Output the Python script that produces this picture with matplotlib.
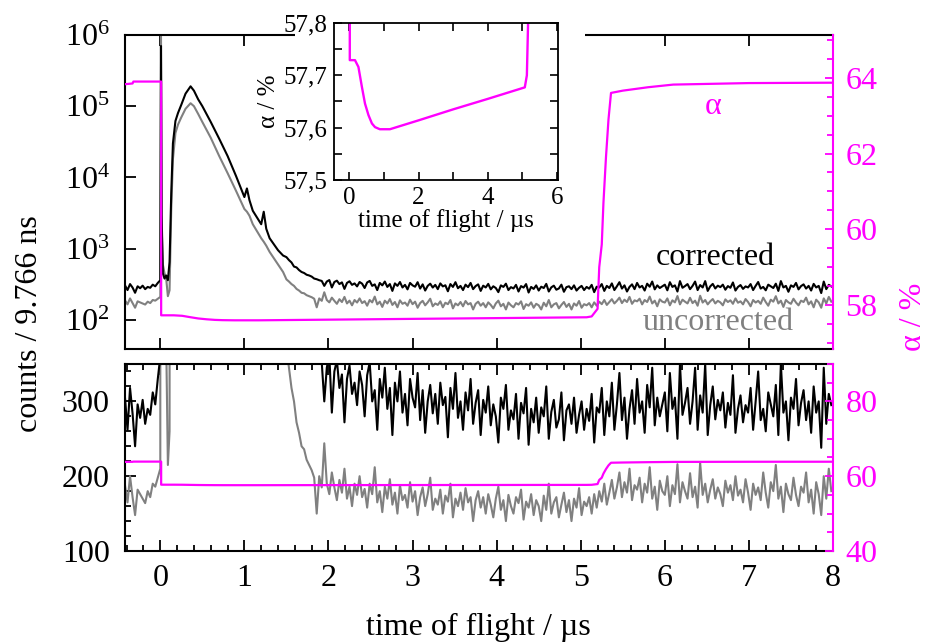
import numpy as np
import matplotlib
matplotlib.use("Agg")
import matplotlib.pyplot as plt
from matplotlib.ticker import MultipleLocator, NullLocator, LogLocator, LogFormatterMathtext, FuncFormatter
from matplotlib.patches import Rectangle

plt.rcParams['font.family'] = ['Liberation Serif', 'DejaVu Serif']
plt.rcParams['mathtext.fontset'] = 'custom'
plt.rcParams['mathtext.rm'] = 'Liberation Serif'
plt.rcParams['mathtext.it'] = 'Liberation Serif:italic'

MAGENTA = '#ff00ff'
GREY = '#808080'

# --- data (time of flight in us, counts per 9.766 ns bin, alpha in %) ---
# before the pulse, 0.03 us bins starting at -0.42 us
black_pre = [305, 262, 318, 284, 240, 296, 278, 302, 270, 290, 282, 312, 296, 330]
gray_pre = [188, 165, 200, 172, 148, 182, 176, 170, 164, 180, 172, 190, 186, 198]

# the pulse itself
pulse_t = [0.0, 0.008, 0.016, 0.03, 0.05, 0.07, 0.09, 0.11, 0.13, 0.15, 0.18, 0.21,
           0.25, 0.30, 0.36, 0.40, 0.45, 0.50, 0.60, 0.70, 0.80, 0.90, 1.00, 1.03,
           1.06, 1.10, 1.20, 1.23, 1.26, 1.30, 1.40, 1.46]
black_pulse = [360, 700000, 3000, 450, 380, 420, 360, 650, 6000, 30000, 62000, 80000,
               105000, 150000, 190000, 165000, 125000, 100000, 60000, 35000, 20000, 10500, 5300, 7000,
               4800, 3400, 2200, 3300, 1900, 1400, 950, 800]
gray_pulse = [210, 1200000, 2000, 600, 450, 380, 215, 260, 3500, 18000, 42000, 55000,
              70000, 92000, 110000, 100000, 78000, 60000, 36000, 20000, 11500, 6500, 3600, 3300,
              2900, 2200, 1400, 1250, 1100, 900, 600, 470]

# background after the pulse, 0.03 us bins starting at 1.5 us
black_tail = [760, 690, 640, 560, 545, 500, 470, 455, 430, 420,
              405, 380, 372, 360, 352, 300, 345, 362, 285, 340,
              355, 318, 336, 272, 330, 348, 310, 325, 295, 340,
              322, 280, 335, 352, 300, 315, 262, 330, 305, 345,
              290, 318, 255, 325, 300, 340, 285, 310, 268, 330,
              305, 292, 338, 275, 315, 258, 300, 322, 284, 310,
              270, 325, 295, 306, 252, 318, 290, 338, 278, 300,
              262, 312, 288, 330, 270, 298, 315, 255, 302, 285,
              320, 268, 296, 280, 245, 305, 290, 322, 262, 288,
              276, 310, 250, 298, 284, 318, 242, 290, 272, 305,
              258, 292, 280, 320, 250, 286, 302, 265, 276, 312,
              248, 288, 296, 270, 305, 258, 282, 300, 262, 290,
              274, 310, 245, 292, 285, 318, 255, 300, 280, 325,
              262, 296, 338, 275, 305, 250, 290, 315, 270, 330,
              285, 300, 258, 322, 292, 345, 268, 305, 280, 296,
              312, 260, 338, 290, 305, 250, 350, 282, 298, 318,
              270, 300, 345, 262, 308, 285, 350, 255, 295, 320,
              276, 302, 288, 312, 265, 298, 282, 335, 258, 290,
              308, 272, 295, 285, 318, 262, 300, 340, 275, 290,
              260, 312, 296, 280, 322, 255, 350, 285, 300, 248,
              305, 290, 330, 268, 298, 315, 275, 300, 258, 320,
              285, 300, 238, 345, 270, 310, 295]
gray_tail = [370, 345, 318, 300, 272, 258, 240, 236, 222, 215,
             208, 198, 150, 200, 185, 244, 190, 176, 205, 185,
             168, 195, 178, 210, 170, 186, 160, 190, 175, 200,
             172, 183, 158, 190, 176, 212, 165, 180, 152, 186,
             170, 196, 162, 178, 150, 188, 168, 175, 158, 192,
             166, 180, 148, 172, 185, 160, 176, 198, 155, 170,
             162, 182, 150, 174, 166, 190, 145, 170, 160, 178,
             155, 184, 165, 172, 140, 168, 180, 158, 172, 150,
             176, 162, 145, 170, 186, 155, 168, 140, 175, 160,
             150, 172, 164, 182, 142, 166, 158, 176, 148, 168,
             160, 140, 174, 155, 190, 150, 165, 172, 145, 162,
             178, 152, 168, 140, 170, 158, 184, 148, 166, 160,
             172, 150, 176, 158, 180, 166, 190, 162, 178, 195,
             170, 185, 205, 172, 192, 178, 210, 168, 188, 182,
             198, 165, 190, 178, 212, 170, 186, 155, 194, 180,
             175, 200, 160, 188, 176, 216, 165, 192, 180, 170,
             204, 172, 186, 158, 218, 175, 190, 165, 182, 196,
             170, 185, 176, 160, 194, 178, 188, 168, 200, 174,
             182, 165, 196, 178, 155, 190, 175, 185, 168, 205,
             178, 158, 192, 180, 215, 170, 186, 152, 190, 176,
             168, 198, 175, 160, 186, 178, 205, 165, 182, 150,
             192, 176, 148, 200, 170, 210, 180]

alpha_t = [-0.42, -0.33, -0.32, 0.01, 0.01, 0.16, 0.26, 0.36, 0.45, 0.55, 0.65, 0.74,
           0.88, 1.17, 2.0, 3.0, 4.0, 5.07, 5.13, 5.2, 5.22, 5.25, 5.27, 5.3, 5.33, 5.36,
           5.5, 5.8, 6.1, 7.0, 8.0]
alpha_vals = [63.83, 63.85, 63.9, 63.9, 57.729, 57.729, 57.716, 57.678, 57.646, 57.624, 57.608, 57.601,
              57.597, 57.597, 57.614, 57.635, 57.655, 57.677, 57.70, 57.9, 59.0, 59.6, 60.7, 61.9, 62.9, 63.6,
              63.66, 63.75, 63.82, 63.86, 63.87]

BIN = 0.03
t_pre = -0.42 + BIN * np.arange(len(black_pre))
t_tail = 1.5 + BIN * np.arange(len(black_tail))
t_all = np.concatenate([t_pre, pulse_t, t_tail])
black_all = np.concatenate([black_pre, black_pulse, black_tail])
gray_all = np.concatenate([gray_pre, gray_pulse, gray_tail])

FS = 23
FS_IN = 18
TICK = dict(direction='in', width=1.3, labelsize=FS)

fig = plt.figure(figsize=(9.3, 6.44), dpi=100)
ax_top = fig.add_axes([0.1344, 0.4581, 0.7613, 0.4876])
ax_bot = fig.add_axes([0.1344, 0.1444, 0.7613, 0.2904])
ax_top_r = ax_top.twinx()
ax_bot_r = ax_bot.twinx()

for ax in (ax_top, ax_bot):
    ax.plot(t_all, gray_all, color=GREY, lw=1.5)
    ax.plot(t_all, black_all, color='black', lw=1.5)
    ax.set_xlim(-0.42, 8.0)
    for s in ('left', 'top', 'bottom'):
        ax.spines[s].set_linewidth(1.5)
    ax.spines['right'].set_visible(False)
for ax in (ax_top_r, ax_bot_r):
    ax.plot(alpha_t, alpha_vals, color=MAGENTA, lw=1.6)
    ax.spines['right'].set_color(MAGENTA)
    ax.spines['right'].set_linewidth(1.5)
    for s in ('left', 'top', 'bottom'):
        ax.spines[s].set_visible(False)

# upper panel
ax_top.set_yscale('log')
ax_top.set_ylim(39, 1e6)
ax_top.yaxis.set_major_locator(LogLocator(base=10, numticks=10))
ax_top.yaxis.set_major_formatter(LogFormatterMathtext())
ax_top.yaxis.set_minor_locator(NullLocator())
ax_top.xaxis.set_major_locator(MultipleLocator(1))
ax_top.xaxis.set_minor_locator(NullLocator())
ax_top.tick_params(axis='x', which='both', top=True, labelbottom=False, length=8, **TICK)
ax_top.tick_params(axis='y', which='major', length=8, pad=11, **TICK)
ax_top_r.set_ylim(56.84, 65.13)
ax_top_r.yaxis.set_major_locator(MultipleLocator(2))
ax_top_r.yaxis.set_minor_locator(MultipleLocator(0.5))
ax_top_r.tick_params(axis='y', which='major', length=6, color=MAGENTA, labelcolor=MAGENTA, pad=9, **TICK)
ax_top_r.tick_params(axis='y', which='minor', length=4, color=MAGENTA, direction='in', width=1.3)

ax_top_r.text(6.57, 63.25, 'α', color=MAGENTA, fontsize=FS, ha='center', va='center')
ax_top.text(6.6, 760, 'corrected', color='black', fontsize=FS, ha='center', va='center')
ax_top.text(6.63, 93, 'uncorrected', color=GREY, fontsize=FS, ha='center', va='center')

# lower panel
ax_bot.set_ylim(100, 350)
ax_bot.yaxis.set_major_locator(MultipleLocator(100))
ax_bot.yaxis.set_minor_locator(MultipleLocator(20))
ax_bot.xaxis.set_major_locator(MultipleLocator(1))
ax_bot.xaxis.set_minor_locator(MultipleLocator(0.2))
ax_bot.tick_params(axis='x', which='major', top=True, length=8, pad=9, **TICK)
ax_bot.tick_params(axis='x', which='minor', top=True, length=4, direction='in', width=1.3)
ax_bot.tick_params(axis='y', which='major', length=8, pad=11, **TICK)
ax_bot.tick_params(axis='y', which='minor', length=4, direction='in', width=1.3)
ax_bot_r.set_ylim(40, 90)
ax_bot_r.yaxis.set_major_locator(MultipleLocator(20))
ax_bot_r.yaxis.set_minor_locator(MultipleLocator(5))
ax_bot_r.tick_params(axis='y', which='major', length=6, color=MAGENTA, labelcolor=MAGENTA, pad=9, **TICK)
ax_bot_r.tick_params(axis='y', which='minor', length=4, color=MAGENTA, direction='in', width=1.3)

# white area behind the inset
fig.add_artist(Rectangle((0.317, 0.6196), 0.312, 0.3804, transform=fig.transFigure,
                         facecolor='white', edgecolor='none', zorder=1))

# inset: alpha zoomed in
ax_in = fig.add_axes([0.359, 0.7205, 0.241, 0.2438])
ax_in.set_zorder(3)
ax_in.plot(alpha_t, alpha_vals, color=MAGENTA, lw=1.7)
ax_in.set_xlim(-0.45, 6.03)
ax_in.set_ylim(57.5, 57.8)
ax_in.xaxis.set_major_locator(MultipleLocator(2))
ax_in.xaxis.set_minor_locator(MultipleLocator(1))
ax_in.yaxis.set_major_locator(MultipleLocator(0.1))
ax_in.yaxis.set_minor_locator(MultipleLocator(0.05))
ax_in.yaxis.set_major_formatter(FuncFormatter(lambda v, p: f"{v:.1f}".replace('.', ',')))
ax_in.tick_params(which='major', top=True, right=True, direction='in', length=6, width=1.2, labelsize=FS_IN, pad=5)
ax_in.tick_params(which='minor', top=True, right=True, direction='in', length=6, width=1.2)
for s in ax_in.spines.values():
    s.set_linewidth(1.3)
ax_in.set_xlabel('time of flight / µs', fontsize=FS_IN, labelpad=0)
ax_in.set_ylabel('α / %', fontsize=FS_IN, labelpad=2)

fig.text(0.032, 0.498, 'counts / 9.766 ns', rotation=90, ha='center', va='center', fontsize=FS)
fig.text(0.982, 0.508, 'α / %', rotation=90, ha='center', va='center', fontsize=FS, color=MAGENTA)
fig.text(0.514, 0.025, 'time of flight / µs', ha='center', va='center', fontsize=FS)

fig.savefig('out.png', dpi=100)
